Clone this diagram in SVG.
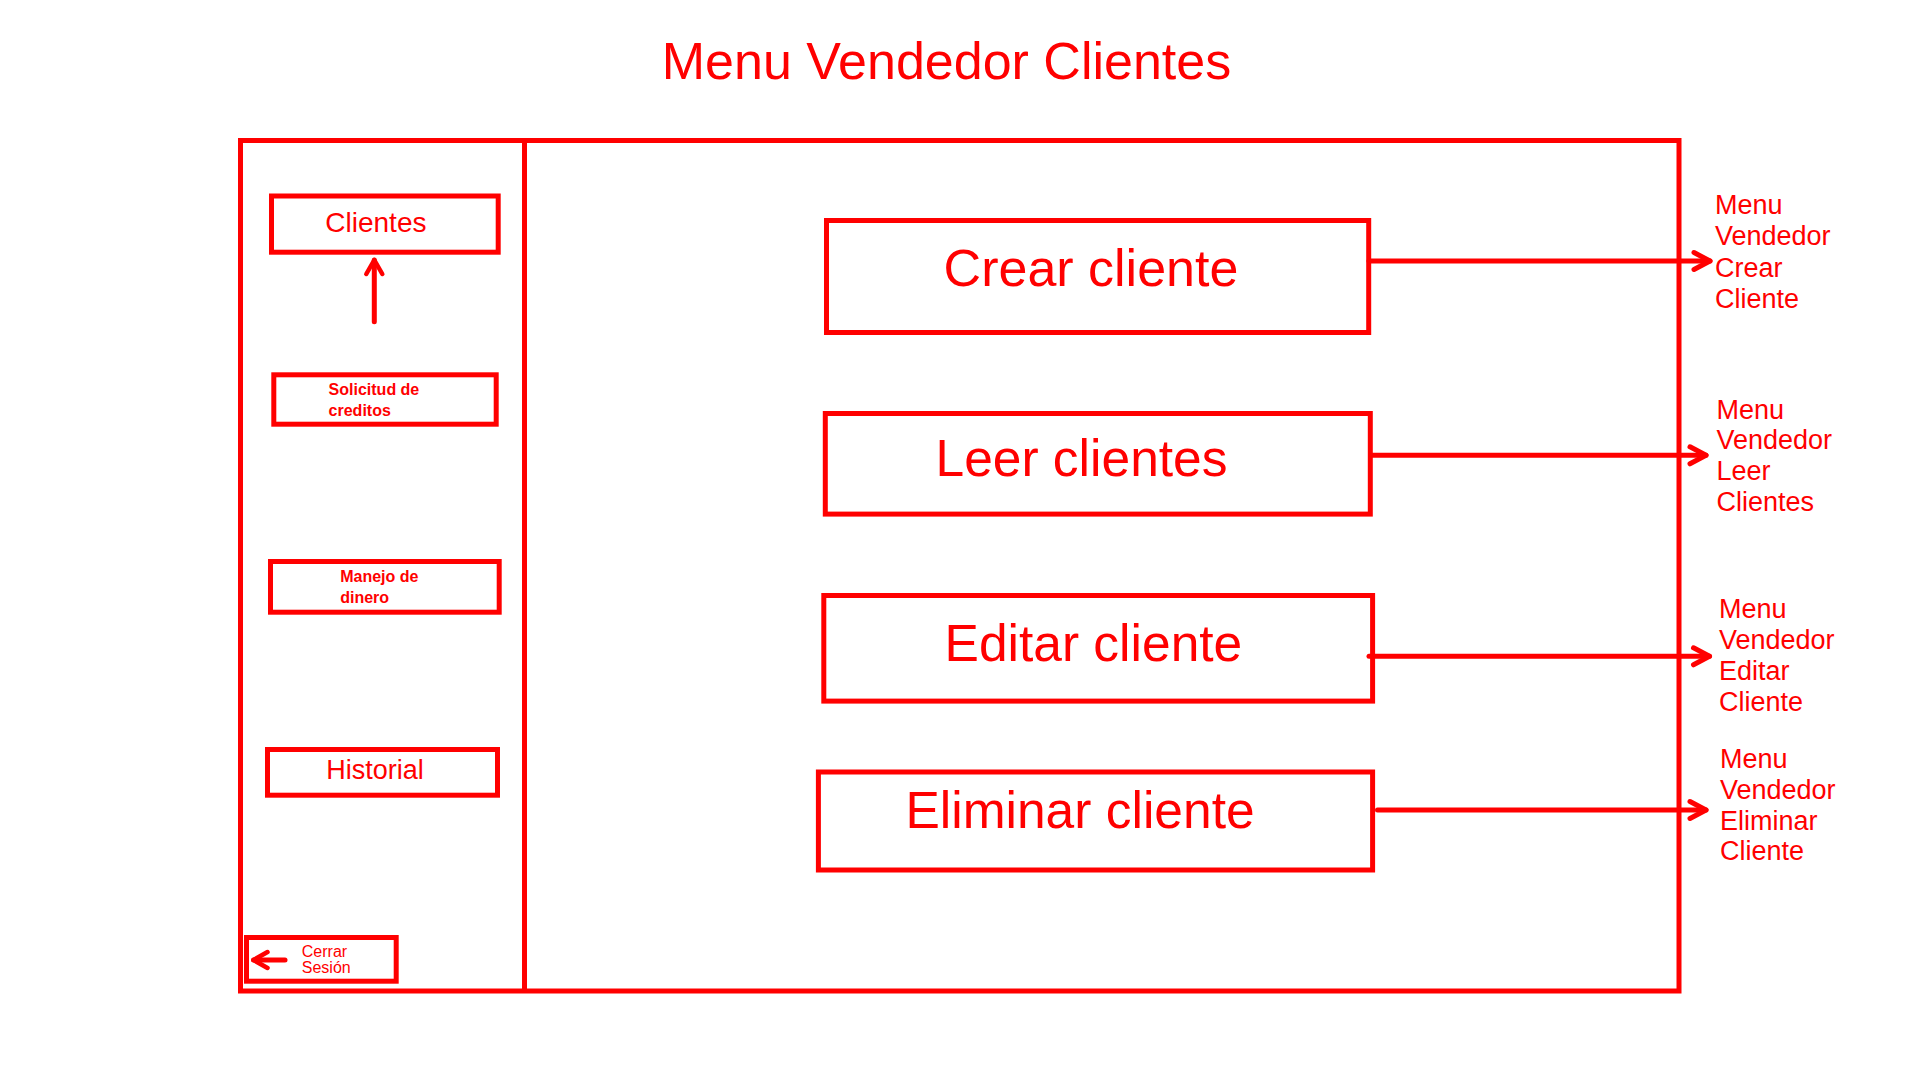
<svg xmlns="http://www.w3.org/2000/svg" width="1920" height="1080" viewBox="0 0 1920 1080">
  <style>
    .box { fill: none; stroke: #FF0000; stroke-width: 5; }
    .t { fill: #FF0000; font-family: "Liberation Sans", Arial, sans-serif; }
    .b { font-weight: bold; }
    .conn { fill: none; stroke: #FF0000; stroke-width: 5; stroke-linecap: round; }
  </style>
  <defs>
    <marker id="arrow" markerUnits="userSpaceOnUse" viewBox="-22 -14 26 28" markerWidth="26" markerHeight="28" refX="0" refY="0" orient="auto" overflow="visible">
      <path d="M-16,-8.5 L0,0 L-16,8.5" fill="none" stroke="#FF0000" stroke-width="5" stroke-linecap="round" stroke-linejoin="round"/>
    </marker>
    <marker id="arrowSm" markerUnits="userSpaceOnUse" viewBox="-20 -12 24 24" markerWidth="24" markerHeight="24" refX="0" refY="0" orient="auto" overflow="visible">
      <path d="M-14,-8 L0,0 L-14,8" fill="none" stroke="#FF0000" stroke-width="4.5" stroke-linecap="round" stroke-linejoin="round"/>
    </marker>
  </defs>
  <rect width="1920" height="1080" fill="#FFFFFF"/>

  <text class="t" x="946.5" y="79" font-size="52" text-anchor="middle">Menu Vendedor Clientes</text>

  <g id="frame">
    <rect class="box" x="240.5" y="140.5" width="1438.5" height="850.5"/>
    <line class="box" x1="524.5" y1="140.5" x2="524.5" y2="991"/>
  </g>

  <g id="clientes">
    <rect class="box" x="271.5" y="196" width="226.7" height="56.2"/>
    <text class="t" x="325.3" y="231.7" font-size="28">Clientes</text>
  </g>
  <g id="solicitud">
    <rect class="box" x="273.8" y="374.8" width="222.4" height="49.4"/>
    <text class="t b" x="328.6" y="395" font-size="16">Solicitud de</text>
    <text class="t b" x="328.6" y="416" font-size="16">creditos</text>
  </g>
  <g id="manejo">
    <rect class="box" x="270.5" y="561.5" width="228.7" height="50.7"/>
    <text class="t b" x="340.2" y="581.7" font-size="16">Manejo de</text>
    <text class="t b" x="340.2" y="603.3" font-size="16">dinero</text>
  </g>
  <g id="historial">
    <rect class="box" x="267.5" y="749.5" width="230" height="45.7"/>
    <text class="t" x="326.3" y="779" font-size="27">Historial</text>
  </g>
  <g id="cerrar">
    <rect class="box" x="246.5" y="937.5" width="149.7" height="43.7"/>
    <text class="t" x="301.8" y="956.7" font-size="16">Cerrar</text>
    <text class="t" x="301.8" y="972.7" font-size="16">Sesión</text>
  </g>

  <g id="crear">
    <rect class="box" x="826.5" y="220.5" width="542.2" height="112"/>
    <text class="t" x="1091" y="286" font-size="52" text-anchor="middle">Crear cliente</text>
  </g>
  <g id="leer">
    <rect class="box" x="825.3" y="413.5" width="545" height="100.6"/>
    <text class="t" x="1081.5" y="475.7" font-size="51.5" text-anchor="middle">Leer clientes</text>
  </g>
  <g id="editar">
    <rect class="box" x="823.8" y="595.5" width="548.8" height="105.6"/>
    <text class="t" x="1093.4" y="660.7" font-size="51.5" text-anchor="middle">Editar cliente</text>
  </g>
  <g id="eliminar">
    <rect class="box" x="818.4" y="772" width="554.2" height="98"/>
    <text class="t" x="1080" y="828.3" font-size="51.5" text-anchor="middle">Eliminar cliente</text>
  </g>

  <g id="label-crear" class="t" font-size="27">
    <text x="1715" y="214.3">Menu</text>
    <text x="1715" y="245">Vendedor</text>
    <text x="1715" y="276.7">Crear</text>
    <text x="1715" y="307.7">Cliente</text>
  </g>
  <g id="label-leer" class="t" font-size="27">
    <text x="1716.5" y="419">Menu</text>
    <text x="1716.5" y="449.3">Vendedor</text>
    <text x="1716.5" y="480.3">Leer</text>
    <text x="1716.5" y="511">Clientes</text>
  </g>
  <g id="label-editar" class="t" font-size="27">
    <text x="1719" y="617.7">Menu</text>
    <text x="1719" y="649">Vendedor</text>
    <text x="1719" y="680">Editar</text>
    <text x="1719" y="710.7">Cliente</text>
  </g>
  <g id="label-eliminar" class="t" font-size="27">
    <text x="1720" y="767.7">Menu</text>
    <text x="1720" y="799">Vendedor</text>
    <text x="1720" y="830">Eliminar</text>
    <text x="1720" y="860">Cliente</text>
  </g>

  <g id="connectors">
    <path class="conn" d="M1369,261 H1710" marker-end="url(#arrow)"/>
    <path class="conn" d="M1371,455.3 H1706" marker-end="url(#arrow)"/>
    <path class="conn" d="M1369,656.3 H1709.5" marker-end="url(#arrow)"/>
    <path class="conn" d="M1377.5,810 H1706" marker-end="url(#arrow)"/>
    <path class="conn" d="M374.3,321.7 V260" stroke-width="4" marker-end="url(#arrowSm)"/>
    <path class="conn" d="M285,960 H253.5" marker-end="url(#arrowSm)"/>
  </g>
</svg>
